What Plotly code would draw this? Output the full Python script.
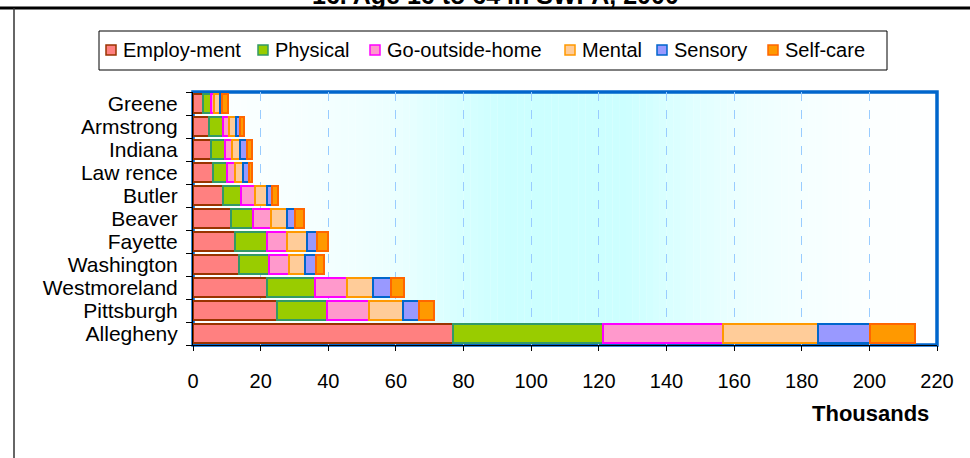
import plotly.graph_objects as go

# ---------------- data ----------------
counties = ["Greene", "Armstrong", "Indiana", "Law rence", "Butler", "Beaver",
            "Fayette", "Washington", "Westmoreland", "Pittsburgh", "Allegheny"]
employment = [2.9, 4.7, 5.3, 5.8, 8.9, 11.2, 12.3, 13.6, 21.9, 24.9, 77.0]
physical = [2.4, 4.1, 4.1, 4.2, 5.2, 6.5, 9.6, 8.8, 14.1, 14.8, 44.2]
go_outside_home = [1.0, 1.8, 2.2, 2.3, 4.1, 5.3, 5.9, 5.9, 9.6, 12.4, 35.5]
mental = [1.8, 2.2, 2.4, 2.4, 3.6, 4.7, 5.9, 4.7, 7.6, 10.0, 28.2]
sensory = [0.6, 1.2, 1.9, 1.9, 1.7, 2.4, 3.0, 3.5, 5.4, 4.8, 15.3]
self_care = [1.6, 1.0, 1.5, 0.8, 1.6, 2.6, 3.2, 2.2, 3.7, 4.3, 13.4]
series_names = ["Employ-ment", "Physical", "Go-outside-home", "Mental", "Sensory", "Self-care"]
x_ticks = [0, 20, 40, 60, 80, 100, 120, 140, 160, 180, 200, 220]
x_title = "Thousands"
chart_title = "16. Age 16 to 64 in SWPA, 2000"

# ---------------- styles ----------------
fills = ["#ff8080", "#99cc00", "#ff99cc", "#ffcc99", "#9999ff", "#ff9900"]
edges = ["#993300", "#339966", "#ff00ff", "#ff9900", "#0066cc", "#ff6600"]
FONT = "Liberation Sans, Arial, sans-serif"

W, H = 970, 458
L, R, T, B = 193, 937, 92, 345


def px(x):
    return (x - L) / (R - L)


def py(y):
    return (B - y) / (B - T)


series = [employment, physical, go_outside_home, mental, sensory, self_care]

fig = go.Figure()
for name, vals, f, e in zip(series_names, series, fills, edges):
    fig.add_trace(go.Bar(
        y=counties, x=vals, name=name, orientation="h",
        marker=dict(color=f, line=dict(color=e, width=2)),
        showlegend=False,
    ))

shapes = []
# gradient background (horizontal, cyan in the middle)
stops = [(0, 0.05), (20, 0.12), (40, 0.22), (60, 0.4), (80, 0.8), (92, 1.0),
         (128, 1.0), (140, 0.75), (160, 0.4), (180, 0.2), (200, 0.07), (220, 0.0)]


def intensity(v):
    for (a, ta), (b, tb) in zip(stops[:-1], stops[1:]):
        if a <= v <= b:
            return ta + (tb - ta) * (v - a) / (b - a)
    return 0.0


n = 110
step = 220 / n
for i in range(n):
    x0 = i * step
    t = intensity(x0 + step / 2)
    r = int(round(255 - 51 * t))
    shapes.append(dict(type="rect", xref="x", yref="paper", x0=x0, x1=x0 + step + 0.05,
                       y0=0, y1=1, line=dict(width=0), fillcolor=f"rgb({r},255,255)",
                       layer="below"))

# plot-area blue border
shapes.append(dict(type="rect", xref="paper", yref="paper", x0=0, x1=1, y0=0, y1=1,
                   line=dict(color="#0066cc", width=3.5), layer="below"))

# outer frame lines (cropped chart frame)
shapes.append(dict(type="line", xref="paper", yref="paper", x0=px(0), x1=px(970),
                   y0=py(8), y1=py(8), line=dict(color="black", width=3)))
shapes.append(dict(type="line", xref="paper", yref="paper", x0=px(14), x1=px(14),
                   y0=py(8), y1=py(460), line=dict(color="#333333", width=1.5)))

# legend box
shapes.append(dict(type="rect", xref="paper", yref="paper", x0=px(99), x1=px(887),
                   y0=py(31), y1=py(70), line=dict(color="black", width=1),
                   fillcolor="white"))

annotations = []
sq_left = [106, 258, 370, 565, 657, 768]
legend_y = 50
for name, f, e, sx in zip(series_names, fills, edges, sq_left):
    shapes.append(dict(type="rect", xref="paper", yref="paper", x0=px(sx), x1=px(sx + 10),
                       y0=py(legend_y + 5), y1=py(legend_y - 5),
                       line=dict(color=e, width=1.5), fillcolor=f))
    annotations.append(dict(xref="paper", yref="paper", x=px(sx + 15), y=py(legend_y),
                            xanchor="left", yanchor="middle", text=name, showarrow=False,
                            font=dict(family=FONT, size=20, color="black")))

# axis title
annotations.append(dict(xref="paper", yref="paper", x=px(931), y=py(413), xanchor="right",
                        yanchor="middle", text=f"<b>{x_title}</b>", showarrow=False,
                        font=dict(family=FONT, size=22, color="black")))
# (cropped) chart title
annotations.append(dict(xref="paper", yref="paper", x=px(495), y=py(-5), xanchor="center",
                        yanchor="middle", text=f"<b>{chart_title}</b>", showarrow=False,
                        font=dict(family=FONT, size=25, color="black")))

fig.update_layout(
    width=W, height=H,
    margin=dict(l=L, r=W - R, t=T, b=H - B, pad=0),
    barmode="stack", bargap=0.17,
    paper_bgcolor="white", plot_bgcolor="rgba(0,0,0,0)",
    font=dict(family=FONT, size=20, color="black"),
    shapes=shapes, annotations=annotations,
    showlegend=False,
    xaxis=dict(range=[0, 220], tickmode="array", tickvals=x_ticks,
               ticktext=[str(v) for v in x_ticks],
               ticks="outside", ticklen=5, tickcolor="black", tickwidth=1,
               showline=True, linecolor="black", linewidth=1,
               showgrid=True, gridcolor="#99ccff", griddash="dash", gridwidth=1,
               zeroline=False, tickfont=dict(family=FONT, size=20),
               ticklabelstandoff=13, fixedrange=True),
    yaxis=dict(type="category", categoryorder="array", categoryarray=counties,
               tickmode="array", tickvals=counties, ticktext=counties,
               autorange="reversed", tickson="boundaries",
               ticks="outside", ticklen=6, tickcolor="black", tickwidth=1,
               showline=True, linecolor="black", linewidth=1, showgrid=False,
               zeroline=False, tickfont=dict(family=FONT, size=21),
               ticklabelstandoff=10, fixedrange=True),
)

fig.write_html("out.html", config={"displayModeBar": False},
               post_script="document.body.style.margin='0';")
